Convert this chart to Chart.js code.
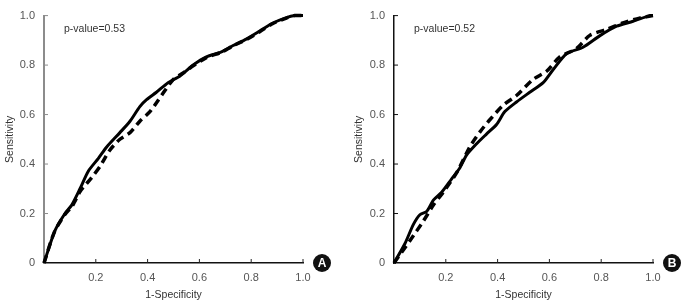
<!DOCTYPE html>
<html>
<head>
<meta charset="utf-8">
<script src="https://cdn.jsdelivr.net/npm/chart.js@4"></script>
<style>
  body { margin: 0; background: #fff; }
  .panel { position: absolute; top: 0; width: 341px; height: 304px; }
</style>
</head>
<body>
<div class="panel" style="left:0"><canvas id="chartA"></canvas></div>
<div class="panel" style="left:341px"><canvas id="chartB"></canvas></div>
<script>
// panel A: 1-specificity / sensitivity
const fprA1 = [0, 0.042, 0.081, 0.107, 0.139, 0.171, 0.21, 0.242, 0.293, 0.332, 0.37, 0.396, 0.434, 0.479, 0.524, 0.576, 0.627, 0.685, 0.73, 0.781, 0.833, 0.884, 0.936, 0.968, 1.0]
const tprA1 = [0, 0.13, 0.2, 0.234, 0.3, 0.371, 0.423, 0.469, 0.527, 0.573, 0.632, 0.66, 0.69, 0.729, 0.755, 0.8, 0.833, 0.853, 0.879, 0.905, 0.938, 0.97, 0.992, 1.0, 1.0]
const fprA2 = [0, 0.04, 0.08, 0.11, 0.14, 0.184, 0.216, 0.254, 0.293, 0.332, 0.37, 0.409, 0.441, 0.467, 0.499, 0.537, 0.576, 0.627, 0.685, 0.73, 0.781, 0.833, 0.884, 0.936, 0.968, 1.0]
const tprA2 = [0, 0.125, 0.195, 0.232, 0.29, 0.345, 0.39, 0.456, 0.5, 0.527, 0.573, 0.612, 0.658, 0.697, 0.742, 0.768, 0.797, 0.83, 0.852, 0.878, 0.903, 0.935, 0.968, 0.99, 1.0, 1.0]

// panel B
const fprB1 = [0, 0.042, 0.075, 0.1, 0.126, 0.152, 0.184, 0.222, 0.254, 0.28, 0.319, 0.357, 0.396, 0.428, 0.473, 0.524, 0.576, 0.614, 0.666, 0.73, 0.794, 0.859, 0.923, 0.987, 1.0]
const tprB1 = [0, 0.078, 0.156, 0.195, 0.208, 0.254, 0.286, 0.339, 0.384, 0.436, 0.482, 0.521, 0.56, 0.612, 0.651, 0.69, 0.729, 0.781, 0.846, 0.872, 0.918, 0.957, 0.977, 1.0, 1.0]
const fprB2 = [0, 0.062, 0.113, 0.152, 0.19, 0.242, 0.293, 0.332, 0.37, 0.422, 0.473, 0.537, 0.589, 0.64, 0.704, 0.756, 0.82, 0.884, 0.948, 1.0]
const tprB2 = [0, 0.091, 0.169, 0.234, 0.286, 0.365, 0.47, 0.53, 0.579, 0.638, 0.677, 0.742, 0.775, 0.833, 0.866, 0.92, 0.944, 0.97, 0.99, 1.0]

const tickValues = [0.2, 0.4, 0.6, 0.8, 1.0]
const pValues = ['p-value=0.53', 'p-value=0.52']
const panelLetters = ['A', 'B']

const FONT = 'Liberation Sans, Arial, sans-serif'

const toPoints = (xs, ys) => xs.map((x, i) => ({x: x, y: ys[i]}))

// inward ticks, p-value text and the round panel badge
const extras = {
  id: 'extras',
  afterDraw(chart, args, opts) {
    const ctx = chart.ctx
    const xs = chart.scales.x, ys = chart.scales.y
    const area = chart.chartArea
    ctx.save()
    ctx.lineWidth = 1
    ctx.strokeStyle = '#222'
    tickValues.forEach(v => {
      const px = xs.getPixelForValue(v)
      ctx.beginPath(); ctx.moveTo(px, area.bottom); ctx.lineTo(px, area.bottom - 4); ctx.stroke()
    })
    ctx.strokeStyle = opts.yColor
    tickValues.forEach(v => {
      const py = ys.getPixelForValue(v)
      ctx.beginPath(); ctx.moveTo(area.left, py); ctx.lineTo(area.left + 4, py); ctx.stroke()
    })
    ctx.fillStyle = '#333'
    ctx.font = '10.5px ' + FONT
    ctx.textBaseline = 'middle'
    ctx.fillText(opts.pText, area.left + 20, 29)
    // badge
    const bx = area.right + 19, by = area.bottom
    ctx.fillStyle = '#111'
    ctx.beginPath(); ctx.arc(bx, by, 9, 0, Math.PI * 2); ctx.fill()
    ctx.fillStyle = '#fff'
    ctx.font = 'bold 12px ' + FONT
    ctx.textAlign = 'center'
    ctx.fillText(opts.letter, bx, by + 1)
    ctx.restore()
  }
}

function makeChart(id, solid, dashed, idx, pad, yWidth, yColor, yBorderW) {
  return new Chart(document.getElementById(id), {
    type: 'line',
    data: {
      datasets: [
        {data: solid, borderColor: '#000', borderWidth: 3, pointRadius: 0, tension: 0.25, clip: 6},
        {data: dashed, borderColor: '#000', borderWidth: 3.5, borderDash: [8, 5], pointRadius: 0, tension: 0.25, clip: 6}
      ]
    },
    options: {
      responsive: true,
      maintainAspectRatio: false,
      animation: false,
      layout: {padding: pad},
      plugins: {
        legend: {display: false},
        tooltip: {enabled: false},
        extras: {pText: pValues[idx], letter: panelLetters[idx], yColor: yColor}
      },
      scales: {
        x: {
          type: 'linear', min: 0, max: 1,
          grid: {drawOnChartArea: false, drawTicks: false},
          border: {display: true, color: '#111', width: 1.5},
          ticks: {stepSize: 0.2, padding: 8, color: '#555', font: {family: FONT, size: 11},
            callback: v => v === 0 ? '' : v.toFixed(1)},
          title: {display: true, text: '1-Specificity', color: '#333', font: {family: FONT, size: 10.5}, padding: {top: 0, bottom: 3}},
          afterFit: s => { s.height = 41 }
        },
        y: {
          min: 0, max: 1,
          grid: {drawOnChartArea: false, drawTicks: false},
          border: {display: true, color: yColor, width: yBorderW},
          ticks: {stepSize: 0.2, padding: 9, color: '#555', font: {family: FONT, size: 11},
            callback: v => v === 0 ? '0' : v.toFixed(1)},
          title: {display: true, text: 'Sensitivity', color: '#333', font: {family: FONT, size: 10.5}, padding: {top: 4, bottom: 0}},
          afterFit: s => { s.width = yWidth }
        }
      }
    },
    plugins: [extras]
  })
}

makeChart('chartA', toPoints(fprA1, tprA1), toPoints(fprA2, tprA2), 0, {left: 0, right: 38, top: 8, bottom: 0}, 44, '#8c8c8c', 2)
makeChart('chartB', toPoints(fprB1, tprB1), toPoints(fprB2, tprB2), 1, {left: 8, right: 29, top: 8, bottom: 0}, 45, '#111', 1.5)
</script>
</body>
</html>
